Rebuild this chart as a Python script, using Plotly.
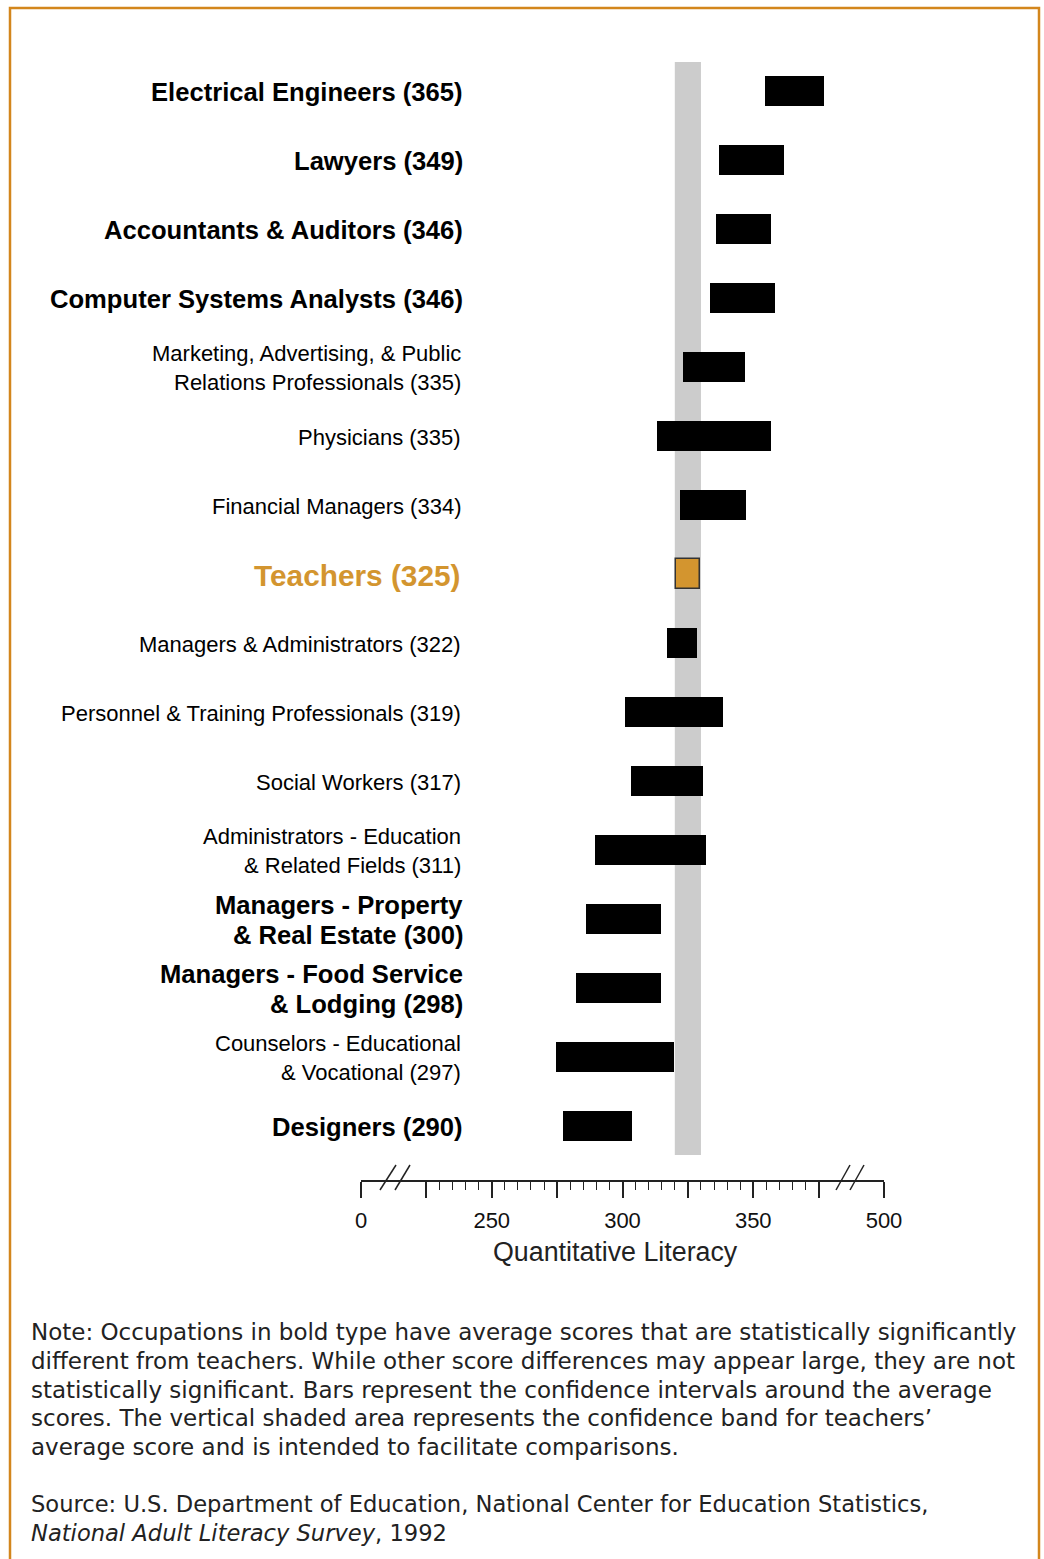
import plotly.graph_objects as go

# ---------------- data ----------------
occupations = [
    "Electrical Engineers", "Lawyers", "Accountants & Auditors",
    "Computer Systems Analysts",
    "Marketing, Advertising, & Public<br>Relations Professionals",
    "Physicians", "Financial Managers", "Teachers",
    "Managers & Administrators", "Personnel & Training Professionals",
    "Social Workers", "Administrators - Education<br>& Related Fields",
    "Managers - Property<br>& Real Estate",
    "Managers - Food Service<br>& Lodging",
    "Counselors - Educational<br>& Vocational", "Designers",
]
scores = [365, 349, 346, 346, 335, 335, 334, 325, 322, 319, 317, 311, 300, 298, 297, 290]
ci_low = [354.5, 337.0, 335.7, 333.4, 323.1, 313.1, 322.0, 320.5, 317.0, 300.8,
          303.2, 289.4, 285.9, 282.1, 274.4, 277.1]
ci_high = [377.1, 361.8, 356.8, 358.3, 346.9, 356.8, 347.3, 329.6, 328.5, 338.4,
           330.8, 332.0, 314.7, 314.7, 319.7, 303.5]
significant = [True, True, True, True, False, False, False, None, False, False,
               False, False, True, True, False, True]
teacher_band = [320, 330]

tick_values = [200, 225, 250, 275, 300, 325, 350, 375, 400]
tick_labels = ["0", "", "250", "", "300", "", "350", "", "500"]

note_lines = [
    "Note: Occupations in bold type have average scores that are statistically significantly",
    "different from teachers. While other score differences may appear large, they are not",
    "statistically significant. Bars represent the confidence intervals around the average",
    "scores. The vertical shaded area represents the confidence band for teachers\u2019",
    "average score and is intended to facilitate comparisons.",
]
source_lines = [
    "Source: U.S. Department of Education, National Center for Education Statistics,",
    "<i>National Adult Literacy Survey</i>, 1992",
]

# ---------------- layout geometry (reference page pixels) ----------------
W, H = 1044, 1559
L, R, T, B = 361, 884, 55, 1180
ORANGE = "#D3952F"
FRAME = "#D3861C"


def px(x):
    return (x - L) / (R - L)


def py(y):
    return (B - y) / (B - T)


n = len(occupations)
rows = list(range(n))
row0, step = 91, 69
y_top = (T - row0) / step
y_bot = (B - row0) / step

fig = go.Figure()

colors = [ORANGE if s is None else "black" for s in significant]
line_colors = ["#333333" if s is None else "black" for s in significant]
line_widths = [1.5 if s is None else 0 for s in significant]

fig.add_trace(go.Bar(
    orientation="h",
    y=rows,
    base=ci_low,
    x=[h - l for l, h in zip(ci_low, ci_high)],
    width=0.44,
    marker=dict(color=colors, line=dict(color=line_colors, width=line_widths)),
    hoverinfo="skip",
    showlegend=False,
))

# teacher confidence band
fig.add_shape(type="rect", xref="x", yref="y", x0=teacher_band[0], x1=teacher_band[1],
              y0=(62 - row0) / step, y1=(1155 - row0) / step,
              fillcolor="#cccccc", line=dict(width=0), layer="below")

# labels
FONT = "Liberation Sans, Arial, Helvetica"
annotations = []
for i, (name, sc, sig) in enumerate(zip(occupations, scores, significant)):
    lines = (name + f" ({sc})").split("<br>")
    nl = len(lines)
    for k, ln in enumerate(lines):
        if sig is None:
            font = dict(family=FONT, size=29.8, color=ORANGE)
            txt = f"<b>{ln}</b>"
            xr = 462
        elif sig:
            font = dict(family=FONT, size=25.6, color="black")
            txt = f"<b>{ln}</b>"
            xr = 465
        else:
            font = dict(family=FONT, size=22, color="black")
            txt = ln
            xr = 463
        shift = -(k - (nl - 1) / 2) * 29.5 - 1
        annotations.append(dict(
            x=px(xr), xref="paper", y=i, yref="y", text=txt, showarrow=False,
            xanchor="right", yanchor="middle", yshift=shift, font=font,
        ))

annotations.append(dict(x=px(615), xref="paper", y=py(1252), yref="paper",
                        text="Quantitative Literacy", showarrow=False,
                        xanchor="center", yanchor="middle",
                        font=dict(family=FONT, size=26.8, color="#222")))
for k, ln in enumerate(note_lines):
    annotations.append(dict(x=px(29), xref="paper", y=py(1332 + k * 28.8), yref="paper",
                            text=ln, showarrow=False, align="left",
                            xanchor="left", yanchor="middle",
                            font=dict(family="DejaVu Sans", size=23, color="#222")))
for k, ln in enumerate(source_lines):
    annotations.append(dict(x=px(29), xref="paper", y=py(1504 + k * 29), yref="paper",
                            text=ln, showarrow=False, align="left",
                            xanchor="left", yanchor="middle",
                            font=dict(family="DejaVu Sans", size=22.6, color="#222")))

# axis break marks
shapes = []
for (x0, x1) in [(380, 396), (395, 410), (836, 850), (850, 864)]:
    shapes.append(dict(type="line", xref="paper", yref="paper",
                       x0=px(x0), x1=px(x1), y0=py(1190), y1=py(1165),
                       line=dict(color="#222", width=1.5)))
# outer frame
shapes.append(dict(type="rect", xref="paper", yref="paper",
                   x0=px(10), x1=px(1039), y0=py(8), y1=py(1575),
                   line=dict(color=FRAME, width=2.5), fillcolor="rgba(0,0,0,0)"))

minor_vals = [v for v in range(230, 375, 5) if v % 25 != 0]

fig.update_layout(
    width=W, height=H,
    margin=dict(l=L, r=W - R, t=T, b=H - B),
    paper_bgcolor="white", plot_bgcolor="white",
    annotations=annotations,
    shapes=fig.layout.shapes + tuple(shapes),
    bargap=0,
)
fig.update_xaxes(
    range=[200, 400], showgrid=False, zeroline=False,
    showline=True, linecolor="#222", linewidth=1.5,
    ticks="outside", ticklen=16, tickwidth=1.5, tickcolor="#222",
    tickmode="array", tickvals=tick_values, ticktext=tick_labels,
    tickfont=dict(family=FONT, size=22, color="#111"),
    ticklabelstandoff=4,
    minor=dict(tickmode="array", tickvals=minor_vals, ticks="outside",
               ticklen=8, tickwidth=1.2, tickcolor="#222", showgrid=False),
    fixedrange=True,
)
fig.update_yaxes(range=[y_bot, y_top], visible=False, fixedrange=True)

fig.write_html("out.html",
               config={"displayModeBar": False},
               post_script="document.body.style.margin='0';document.body.style.overflow='hidden';")
